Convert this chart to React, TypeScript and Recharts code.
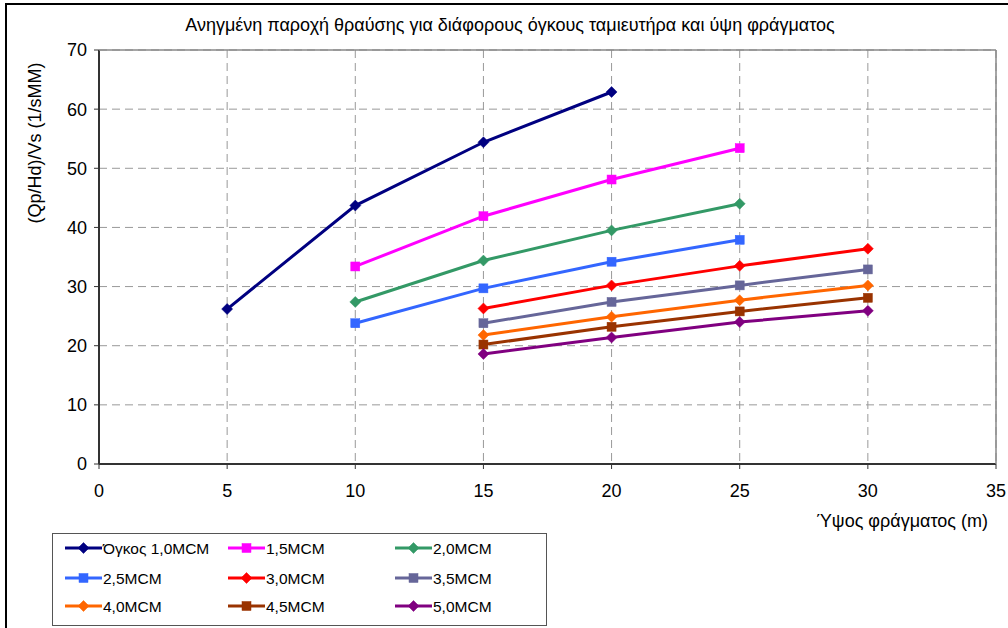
import React from 'react';
import { LineChart, Line, XAxis, YAxis, CartesianGrid, Label } from 'recharts';

const heights = [5, 10, 15, 20, 25, 30];
const xTicks = [0, 5, 10, 15, 20, 25, 30, 35];
const yTicks = [0, 10, 20, 30, 40, 50, 60, 70];

const vol10 = [26.2, 43.7, 54.4, 62.9, null, null];
const vol15 = [null, 33.4, 41.9, 48.1, 53.4, null];
const vol20 = [null, 27.4, 34.4, 39.5, 44.0, null];
const vol25 = [null, 23.8, 29.7, 34.2, 37.9, null];
const vol30 = [null, null, 26.3, 30.2, 33.5, 36.4];
const vol35 = [null, null, 23.8, 27.4, 30.2, 32.9];
const vol40 = [null, null, 21.8, 24.9, 27.7, 30.2];
const vol45 = [null, null, 20.2, 23.2, 25.8, 28.1];
const vol50 = [null, null, 18.6, 21.4, 24.0, 25.9];

const seriesNames = ['Όγκος 1,0MCM', '1,5MCM', '2,0MCM', '2,5MCM', '3,0MCM', '3,5MCM', '4,0MCM', '4,5MCM', '5,0MCM'];
const seriesValues = [vol10, vol15, vol20, vol25, vol30, vol35, vol40, vol45, vol50];
const seriesColors = ['#000080', '#FF00FF', '#339966', '#3366FF', '#FF0000', '#666699', '#FF6600', '#993300', '#800080'];
const seriesShapes = ['diamond', 'square', 'diamond', 'square', 'diamond', 'square', 'diamond', 'square', 'diamond'];

const title = 'Ανηγμένη παροχή θραύσης για διάφορους όγκους ταμιευτήρα και ύψη φράγματος';
const xLabel = 'Ύψος φράγματος (m)';
const yLabel = '(Qp/Hd)/Vs (1/sMM)';

const data = heights.map((h, i) => {
  const row: any = { h };
  seriesValues.forEach((vals, k) => {
    row['s' + k] = vals[i];
  });
  return row;
});

const FONT = '"Liberation Sans", Arial, sans-serif';

function Marker({ cx, cy, color, shape }: any) {
  if (cx == null || cy == null) return null;
  if (shape === 'square') {
    return <rect x={cx - 4.5} y={cy - 4.5} width={9} height={9} fill={color} stroke={color} strokeWidth={0.5} />;
  }
  const r = 5.5;
  return <polygon points={`${cx},${cy - r} ${cx + r},${cy} ${cx},${cy + r} ${cx - r},${cy}`} fill={color} stroke={color} strokeWidth={0.5} />;
}

function makeDot(color: string, shape: string) {
  return (props: any) => {
    if (props.value == null || props.payload == null || props.payload[props.dataKey] == null) return <g key={props.key} />;
    return <Marker key={props.key} cx={props.cx} cy={props.cy} color={color} shape={shape} />;
  };
}

function LegendBox() {
  const colX = [13, 176, 343];
  const rowY = [15, 45, 73];
  return (
    <div style={{ position: 'absolute', left: 52, top: 533, width: 495, height: 93, border: '1px solid #555', boxSizing: 'border-box', background: '#fff' }}>
      <svg width={495} height={93} style={{ position: 'absolute', left: -1, top: -1 }}>
        {seriesNames.map((name, i) => {
          const x = colX[i % 3];
          const y = rowY[Math.floor(i / 3)];
          return (
            <g key={name}>
              <line x1={x} y1={y} x2={x + 37} y2={y} stroke={seriesColors[i]} strokeWidth={3} />
              <Marker cx={x + 18.5} cy={y} color={seriesColors[i]} shape={seriesShapes[i]} />
              <text x={x + 38} y={y + 6} fontFamily={FONT} fontSize={15.5} fill="#000">{name}</text>
            </g>
          );
        })}
      </svg>
    </div>
  );
}

export default function App() {
  return (
    <div style={{ position: 'absolute', left: 0, top: 0, width: 1008, height: 628, background: '#fff', fontFamily: FONT }}>
      <div style={{ position: 'absolute', left: 5, top: 3, width: 1003, height: 625, borderLeft: '2px solid #000', borderTop: '2px solid #000' }} />
      <LineChart width={1008} height={628} data={data} margin={{ top: 50, right: 12, bottom: 134, left: 0 }} style={{ position: 'absolute', left: 0, top: 0 }}>
        <text x={510} y={31} textAnchor="middle" fontFamily={FONT} fontSize={18} fill="#000">{title}</text>
        <text x={988} y={527} textAnchor="end" fontFamily={FONT} fontSize={18} fill="#000">{xLabel}</text>
        <CartesianGrid stroke="#999" strokeDasharray="8 5" strokeWidth={1} />
        <XAxis
          dataKey="h"
          type="number"
          domain={[0, 35]}
          ticks={xTicks}
          interval={0}
          stroke="#333"
          strokeWidth={2}
          tickSize={5}
          tick={{ fill: '#000', fontSize: 18, fontFamily: FONT, dy: 13 }}
          tickLine={{ stroke: '#333', strokeWidth: 1 }}
        />
        <YAxis
          type="number"
          domain={[0, 70]}
          ticks={yTicks}
          interval={0}
          width={99}
          stroke="#333"
          strokeWidth={2}
          tickSize={5}
          tick={{ fill: '#000', fontSize: 18, fontFamily: FONT, dx: -5 }}
          tickLine={{ stroke: '#333', strokeWidth: 1 }}
        >
          <Label value={yLabel} content={() => (
            <text x={35} y={143} transform="rotate(-90 35 143)" textAnchor="middle" dominantBaseline="central" fontFamily={FONT} fontSize={18} fill="#000">{yLabel}</text>
          )} />
        </YAxis>
        {seriesNames.map((name, k) => (
          <Line
            key={name}
            type="linear"
            dataKey={'s' + k}
            name={name}
            stroke={seriesColors[k]}
            strokeWidth={3}
            dot={makeDot(seriesColors[k], seriesShapes[k])}
            activeDot={false}
            isAnimationActive={false}
            connectNulls={false}
          />
        ))}
      </LineChart>
      <svg width={1008} height={628} style={{ position: 'absolute', left: 0, top: 0, pointerEvents: 'none' }}>
        <line x1={99} y1={50} x2={996} y2={50} stroke="#888" strokeWidth={1.5} />
        <line x1={996} y1={50} x2={996} y2={464} stroke="#888" strokeWidth={1.5} />
      </svg>
      <LegendBox />
    </div>
  );
}
